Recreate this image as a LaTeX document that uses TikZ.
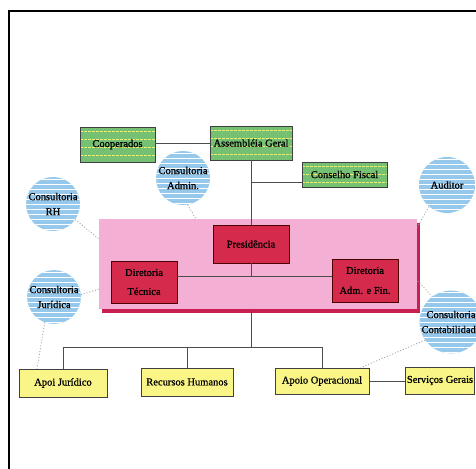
\documentclass[tikz,border=0pt]{standalone}
\usepackage{fontspec}
\setmainfont{Liberation Serif}
\newfontfamily\heavy[FakeBold=0.8]{Liberation Serif}
\usetikzlibrary{shadows}
\definecolor{grn}{RGB}{118,192,116}
\definecolor{ylw}{RGB}{232,240,120}
\definecolor{pinkc}{RGB}{243,176,212}
\definecolor{pshadow}{RGB}{200,30,80}
\definecolor{redb}{RGB}{214,42,76}
\definecolor{yelb}{RGB}{250,245,135}
\definecolor{blu}{RGB}{150,200,236}
\definecolor{dotc}{RGB}{160,160,160}
\begin{document}
\begin{tikzpicture}[x=1pt,y=-1pt,
  font=\heavy\fontsize{10.5}{12}\selectfont,
  greenbox/.style={draw=black!75, line width=0.8pt, fill=grn, inner sep=1pt,
    path picture={\foreach \k in {0,...,6}
      \draw[ylw, dashed, dash pattern=on 3pt off 1pt, line width=0.7pt]
        ([yshift=-\k*8pt-4pt]path picture bounding box.north west) --
        ([yshift=-\k*8pt-4pt]path picture bounding box.north east);}},
  redbox/.style={draw=black!70!red, line width=0.8pt, fill=redb, inner sep=1pt, align=center},
  yelbox/.style={draw=black!75, line width=0.8pt, fill=yelb, inner sep=1pt},
  bubble/.style={circle, fill=blu, minimum size=#1, inner sep=0pt, align=center,
    font=\heavy\fontsize{10.5}{15}\selectfont,
    path picture={\foreach \k in {0,...,12}
      \draw[white, line width=0.7pt]
        ([yshift=-\k*5pt-2pt]path picture bounding box.north west) --
        ([yshift=-\k*5pt-2pt]path picture bounding box.north east);}},
  pinkarea/.style={fill=pinkc, minimum width=318pt, minimum height=90pt, inner sep=0pt,
    drop shadow={shadow xshift=3pt, shadow yshift=-3.5pt, fill=pshadow, opacity=1}},
  link/.style={draw=black!70, line width=0.8pt},
  dotlink/.style={draw=dotc, dotted, line width=0.9pt}
]
\useasboundingbox (0,0) rectangle (476,468);
\clip (0,0) rectangle (476,468);
\fill[white] (0,0) rectangle (476,468);
\draw[line width=1.6pt] (9,11) rectangle (520,520);

% pink group area
\node[pinkarea] (grp) at (258,264) {};

% green boxes
\node[greenbox, minimum width=75pt, minimum height=35pt] (coop) at (117.5,144.5) {Cooperados};
\node[greenbox, minimum width=82pt, minimum height=34pt] (ag) at (251,143) {Assembléia Geral};
\node[greenbox, minimum width=85pt, minimum height=25pt] (cf) at (344.5,174.5) {Conselho Fiscal};

% red boxes
\node[redbox, minimum width=76pt, minimum height=38pt] (pres) at (251,244) {Presidência};
\node[redbox, minimum width=66pt, minimum height=42pt, font=\heavy\fontsize{10.5}{19}\selectfont] (dt) at (144,282) {Diretoria\\Técnica};
\node[redbox, minimum width=66pt, minimum height=43pt, font=\heavy\fontsize{10.5}{20}\selectfont] (da) at (365,280.5) {Diretoria\\Adm. e Fin.};

% yellow boxes
\node[yelbox, minimum width=88pt, minimum height=28pt] (aj) at (63,383) {Apoi Jurídico};
\node[yelbox, minimum width=92pt, minimum height=28pt] (rhb) at (187,382) {Recursos Humanos};
\node[yelbox, minimum width=94pt, minimum height=26pt] (ao) at (322,381) {Apoio Operacional};
\node[yelbox, minimum height=27pt, anchor=west, inner xsep=1.5pt] (sg) at (405,380.5) {Serviços Gerais};

% bubbles
\node[bubble=54pt] (adm) at (183,178) {Consultoria\\Admin.};
\node[bubble=54pt] (crh) at (53,204) {Consultoria\\RH};
\node[bubble=52pt] (jur) at (54,297) {Consultoria\\Jurídica};
\node[bubble=56pt] (aud) at (447,185) {Auditor};
\node[bubble=54pt] (cont) at (451,322) {Consultoria\\Contabilidade};

% coordinates
\coordinate (j1) at (251,182);
\coordinate (hp) at (251,276);
\coordinate (pb) at (251,311);
\coordinate (bus) at (251,347);

% solid connectors
\draw[link] (coop.east |- ag) -- (ag.west);
\draw[link] (ag.south) -- (pres.north);
\draw[link] (j1) -- (j1 -| cf.west);
\draw[link] (pres.south) -- (hp);
\draw[link] (hp -| dt.east) -- (hp -| da.west);
\draw[link] (pb) -- (bus);
\draw[link] (bus -| aj.north) -- (bus -| ao.north);
\draw[link] (bus -| aj.north) -- (aj.north);
\draw[link] (bus -| rhb.north) -- (rhb.north);
\draw[link] (bus -| ao.north) -- (ao.north);
\draw[link] (ao.east) -- (ao.east -| sg.west);

% dotted connectors
\draw[dotlink] (adm.-80) -- (grp.144);
\draw[dotlink] (crh.-35) -- (grp.171);
\draw[dotlink] (jur.5) -- (grp.189);
\draw[dotlink] (jur.-110) -- (aj.151);
\draw[dotlink] (aud.230) -- (grp.13);
\draw[dotlink] (cont.126) -- (grp.354);
\draw[dotlink] (cont.215) -- (ao.19);
\end{tikzpicture}
\end{document}
